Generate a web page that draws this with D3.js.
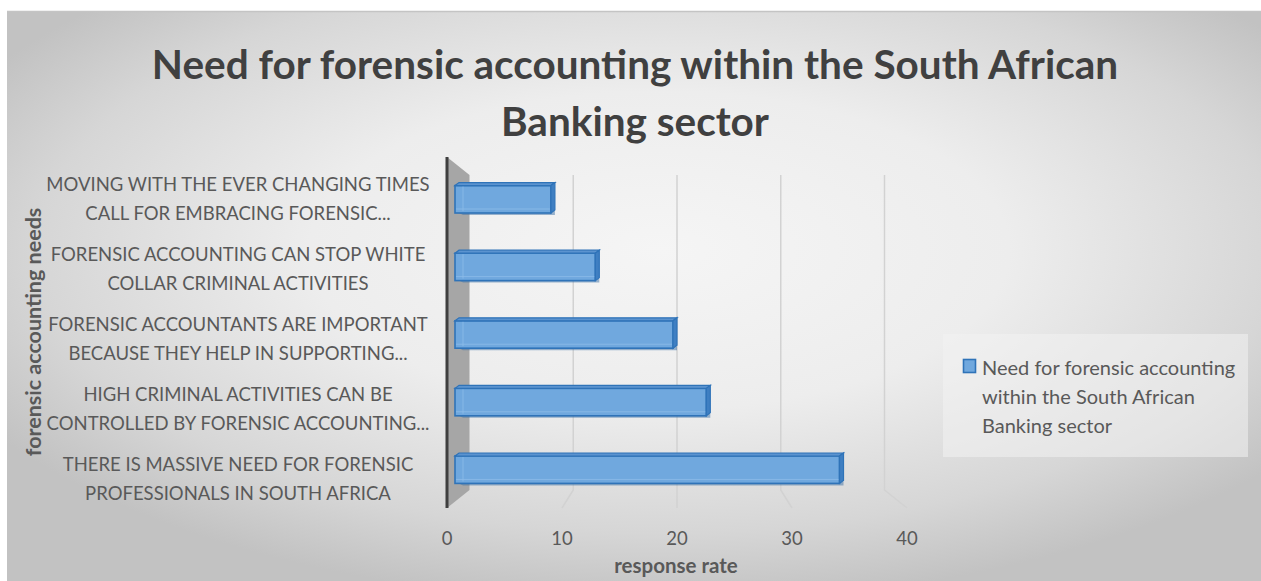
<!DOCTYPE html>
<html>
<head>
<meta charset="utf-8">
<script src="https://cdn.jsdelivr.net/npm/d3@7"></script>
<style>
  html, body { margin: 0; padding: 0; background: #ffffff; }
  svg { display: block; }
  text { font-family: Lato, "Open Sans", sans-serif; }
</style>
</head>
<body>
<svg id="chart" width="1261" height="581"></svg>
<script>
// Survey responses: category labels (two wrapped lines each), response rates, axis ticks
const categoryLines = [
  ["MOVING WITH THE EVER CHANGING TIMES", "CALL FOR EMBRACING FORENSIC..."],
  ["FORENSIC ACCOUNTING CAN STOP WHITE", "COLLAR CRIMINAL ACTIVITIES"],
  ["FORENSIC ACCOUNTANTS ARE IMPORTANT", "BECAUSE THEY HELP IN SUPPORTING..."],
  ["HIGH CRIMINAL ACTIVITIES CAN BE", "CONTROLLED BY FORENSIC ACCOUNTING..."],
  ["THERE IS MASSIVE NEED FOR FORENSIC", "PROFESSIONALS IN SOUTH AFRICA"]
];
const categories = categoryLines.map(l => l.join(" "));
const responseRates = [9, 13, 20, 23, 35];
const xTicks = [0, 10, 20, 30, 40];
const titleLines = ["Need for forensic accounting within the South African", "Banking sector"];
const legendLines = ["Need for forensic accounting", "within the South African", "Banking sector"];

const svg = d3.select("#chart");
const defs = svg.append("defs");

// chart area background
const bg = defs.append("radialGradient").attr("id", "bgGrad")
  .attr("cx", 0.52).attr("cy", 0.42).attr("r", 0.62);
bg.append("stop").attr("offset", 0).attr("stop-color", "#f5f5f5");
bg.append("stop").attr("offset", 0.45).attr("stop-color", "#ededed");
bg.append("stop").attr("offset", 0.8).attr("stop-color", "#d6d6d6");
bg.append("stop").attr("offset", 1).attr("stop-color", "#c2c2c2");

svg.append("rect").attr("x", 7).attr("y", 11).attr("width", 1254).attr("height", 570)
  .attr("fill", "url(#bgGrad)");
svg.append("line").attr("x1", 7).attr("x2", 1261).attr("y1", 11.5).attr("y2", 11.5)
  .attr("stroke", "#c4c4c4").attr("stroke-width", 1.5);

// Perspective planes of the 3-D plot: front, bar plane, back wall
const domain = d3.extent(xTicks);
const xFront = d3.scaleLinear().domain(domain).range([447, 907]);
const xBar = d3.scaleLinear().domain(domain).range([455, 899]);
const xBack = d3.scaleLinear().domain(domain).range([469.5, 884.5]);

const front = { top: 157, bottom: 508 };
const back = { top: 175, bottom: 490 };

const yFront = d3.scaleBand().domain(categories).range([front.top, front.bottom]);
const yBar = d3.scaleBand().domain(categories).range([164, 502])
  .paddingInner(0.55).paddingOuter(0.275);

// gridlines on the back wall and floor
const grid = svg.append("g");
xTicks.filter(t => t > 0).forEach(t => {
  grid.append("path")
    .attr("d", `M${xBack(t)},${back.top}L${xBack(t)},${back.bottom}L${xFront(t)},${front.bottom}`)
    .attr("fill", "none").attr("stroke", "#d2d2d2").attr("stroke-width", 1.5);
});

// side wall on the category axis
svg.append("path")
  .attr("d", `M${xFront(0)},${front.top}L${xBack(0)},${back.top}L${xBack(0)},${back.bottom}L${xFront(0)},${front.bottom}Z`)
  .attr("fill", "#a6a6a6");
svg.append("line")
  .attr("x1", xFront(0)).attr("x2", xFront(0))
  .attr("y1", front.top).attr("y2", front.bottom)
  .attr("stroke", "#3f3f3f").attr("stroke-width", 3);

// 3-D bars
const dx = 4, dy = 3;
const bars = svg.append("g").selectAll("g").data(categories).join("g");
bars.each(function(c, i) {
  const g = d3.select(this);
  const x0 = xBar(0), x1 = xBar(responseRates[i]);
  const y0 = yBar(c), h = yBar.bandwidth();
  const y1 = y0 + h;
  // shadowed underside toward the wall
  g.append("path")
    .attr("d", `M${x0},${y1 - 2}L${x0 + 8},${y1 + 2}L${x1},${y1 + 2}L${x1},${y1 - 2}Z`)
    .attr("fill", "#3c6fa6").attr("opacity", 0.5);
  // front face
  g.append("rect").attr("x", x0).attr("y", y0 + dy).attr("width", x1 - x0 - dx).attr("height", h - dy)
    .attr("fill", "#70a8de").attr("stroke", "#2f73b8").attr("stroke-width", 1.6);
  // top face
  g.append("path")
    .attr("d", `M${x0},${y0 + dy}L${x0 + dx},${y0}L${x1},${y0}L${x1 - dx},${y0 + dy}Z`)
    .attr("fill", "#5b93cf").attr("stroke", "#2f73b8").attr("stroke-width", 1.2);
  // end face
  g.append("path")
    .attr("d", `M${x1 - dx},${y0 + dy}L${x1},${y0}L${x1},${y1 - dy}L${x1 - dx},${y1}Z`)
    .attr("fill", "#3f7fc2").attr("stroke", "#2f73b8").attr("stroke-width", 1.2);
  // inner edges seen through the translucent box
  g.append("path")
    .attr("d", `M${x0 + 8},${y0 + dy + 1}L${x0 + 8},${y1 - 2}M${x0 + 1},${y1 - 4}L${x1 - dx - 1},${y1 - 4}`)
    .attr("stroke", "#8dbbe8").attr("stroke-width", 1).attr("fill", "none").attr("opacity", 0.8);
});

// category labels
const labelG = svg.append("g").attr("fill", "#595959").attr("font-size", 18.5);
categories.forEach((c, i) => {
  const cy = yFront(c) + yFront.bandwidth() / 2;
  const t = labelG.append("text").attr("text-anchor", "middle")
    .attr("x", 238).attr("y", cy - 1.5);
  categoryLines[i].forEach((line, j) => {
    t.append("tspan").attr("x", 238).attr("dy", j === 0 ? 0 : 29).text(line);
  });
});

// value axis tick labels
svg.append("g").selectAll("text").data(xTicks).join("text")
  .attr("x", d => xFront(d)).attr("y", 545)
  .attr("text-anchor", "middle").attr("font-size", 18.5).attr("fill", "#595959")
  .text(d => d);

// axis titles
svg.append("text").attr("x", 676).attr("y", 573)
  .attr("text-anchor", "middle").attr("font-size", 20.5).attr("font-weight", "bold")
  .attr("fill", "#595959").text("response rate");
svg.append("text").attr("transform", "translate(41,332) rotate(-90)")
  .attr("text-anchor", "middle").attr("font-size", 21.5).attr("font-weight", "bold")
  .attr("fill", "#595959").text("forensic accounting needs");

// chart title
const title = svg.append("text").attr("text-anchor", "middle")
  .attr("font-size", 40.5).attr("font-weight", "bold").attr("fill", "#404040");
titleLines.forEach((line, j) => {
  title.append("tspan").attr("x", 635).attr("y", 79 + j * 57).text(line);
});

// legend
const legend = svg.append("g");
legend.append("rect").attr("x", 943).attr("y", 334).attr("width", 305).attr("height", 123)
  .attr("fill", "#f2f2f2").attr("opacity", 0.55);
legend.append("rect").attr("x", 963.5).attr("y", 359.5).attr("width", 12).attr("height", 13)
  .attr("fill", "#70a8de").attr("stroke", "#2f73b8").attr("stroke-width", 1.6);
const legText = legend.append("text").attr("font-size", 20).attr("fill", "#595959");
legendLines.forEach((line, j) => {
  legText.append("tspan").attr("x", 982).attr("y", 375 + j * 29).text(line);
});
</script>
</body>
</html>
